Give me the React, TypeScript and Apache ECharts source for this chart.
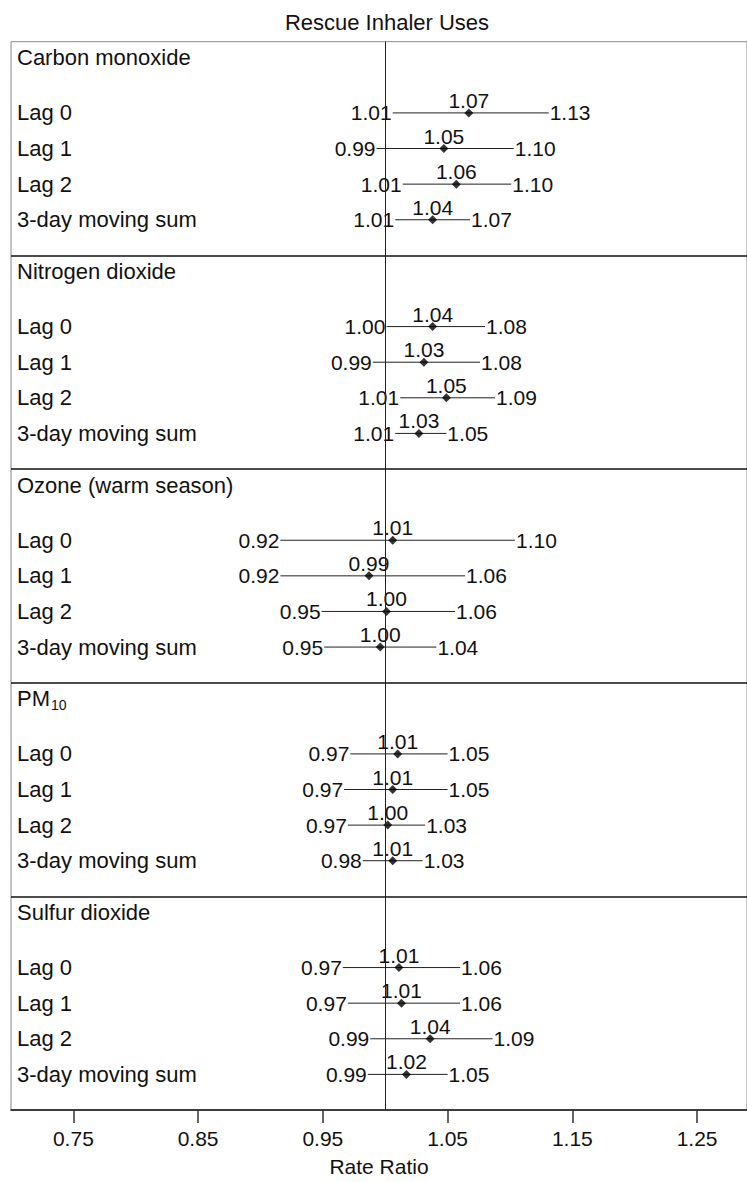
import React, { useEffect, useRef } from "react";
import * as echarts from "echarts";

const FONT = "'Liberation Sans', Arial, Helvetica, sans-serif";

// Panels (pollutants) and rows (lags)
const pollutants = ["Carbon monoxide", "Nitrogen dioxide", "Ozone (warm season)", "PM", "Sulfur dioxide"];
const pollutantSubscripts = ["", "", "", "10", ""];
const lags = ["Lag 0", "Lag 1", "Lag 2", "3-day moving sum"];

// Rate ratio point estimates, per pollutant, per lag
const estimates = [
  [1.067, 1.047, 1.057, 1.038],
  [1.038, 1.031, 1.049, 1.027],
  [1.006, 0.987, 1.001, 0.996],
  [1.01, 1.006, 1.002, 1.006],
  [1.011, 1.013, 1.036, 1.017],
];
// Lower 95% CI
const lower = [
  [1.006, 0.993, 1.014, 1.008],
  [1.001, 0.99, 1.012, 1.008],
  [0.916, 0.916, 0.949, 0.951],
  [0.972, 0.967, 0.97, 0.982],
  [0.966, 0.97, 0.988, 0.986],
];
// Upper 95% CI
const upper = [
  [1.131, 1.103, 1.101, 1.068],
  [1.08, 1.076, 1.088, 1.049],
  [1.104, 1.064, 1.056, 1.041],
  [1.05, 1.05, 1.032, 1.03],
  [1.06, 1.06, 1.086, 1.05],
];

const xTicks = [0.75, 0.85, 0.95, 1.05, 1.15, 1.25];
const X_MIN = 0.7;
const X_MAX = 1.29;
const PANEL_UNITS = 6;

export default function App() {
  const ref = useRef<HTMLDivElement>(null);

  useEffect(() => {
    const chart = echarts.init(ref.current as HTMLDivElement, null, { renderer: "svg" });

    const rows: { y: number; est: number; lo: number; hi: number; label: string }[] = [];
    pollutants.forEach((_, i) =>
      lags.forEach((l, j) =>
        rows.push({ y: i * PANEL_UNITS + 2 + j, est: estimates[i][j], lo: lower[i][j], hi: upper[i][j], label: l })
      )
    );
    const headers = pollutants.map((p, i) => ({ y: i * PANEL_UNITS + 0.45, label: p, sub: pollutantSubscripts[i] }));

    const textStyleBase = { fontFamily: FONT, fill: "#111" };

    const option: any = {
      animation: false,
      graphic: [
        {
          type: "text",
          x: 387,
          y: 22,
          style: {
            text: "Rescue Inhaler Uses",
            align: "center",
            verticalAlign: "middle",
            fontSize: 22,
            ...textStyleBase,
          },
        },
      ],
      grid: {
        left: 11,
        right: 0,
        top: 41.7,
        bottom: 68,
        show: true,
        borderColor: "#888",
        borderWidth: 1,
        backgroundColor: "transparent",
      },
      xAxis: {
        type: "value",
        min: X_MIN,
        max: X_MAX,
        splitLine: { show: false },
        axisLine: { show: true, onZero: false, lineStyle: { color: "#111", width: 1.5 } },
        axisTick: {
          show: true,
          length: 13,
          customValues: xTicks,
          lineStyle: { color: "#333", width: 1.5 },
        },
        axisLabel: {
          customValues: xTicks,
          formatter: (v: number) => v.toFixed(2),
          fontSize: 21,
          fontFamily: FONT,
          color: "#111",
          margin: 18,
        },
        name: "Rate Ratio",
        nameLocation: "middle",
        nameGap: 46,
        nameTextStyle: { fontSize: 21, fontFamily: FONT, color: "#111" },
      },
      yAxis: {
        type: "value",
        min: 0,
        max: pollutants.length * PANEL_UNITS,
        inverse: true,
        show: false,
        splitLine: { show: false },
      },
      series: [
        {
          type: "custom",
          name: "labels",
          clip: false,
          data: [
            ...headers.map((h) => [X_MIN, h.y]),
            ...rows.map((r) => [X_MIN, r.y]),
          ],
          encode: { x: 0, y: 1 },
          renderItem: (params: any, api: any) => {
            const idx = params.dataIndex;
            const pt = api.coord([api.value(0), api.value(1)]);
            const isHeader = idx < headers.length;
            const text = isHeader ? headers[idx].label : rows[idx - headers.length].label;
            const sub = isHeader ? headers[idx].sub : "";
            const children: any[] = [
              {
                type: "text",
                x: pt[0] + 6,
                y: pt[1],
                style: { text, align: "left", verticalAlign: "middle", fontSize: 22, ...textStyleBase },
              },
            ];
            if (sub) {
              children.push({
                type: "text",
                x: pt[0] + 6 + 34,
                y: pt[1] + 6,
                style: { text: sub, align: "left", verticalAlign: "middle", fontSize: 14, ...textStyleBase },
              });
            }
            return { type: "group", children };
          },
          z: 5,
        },
        {
          type: "custom",
          name: "ci",
          clip: false,
          data: rows.map((r) => [r.lo, r.hi, r.y, r.est]),
          encode: { x: [0, 1, 3], y: 2 },
          renderItem: (params: any, api: any) => {
            const lo = api.value(0);
            const hi = api.value(1);
            const y = api.value(2);
            const est = api.value(3);
            const p1 = api.coord([lo, y]);
            const p2 = api.coord([hi, y]);
            const pe = api.coord([est, y]);
            return {
              type: "group",
              children: [
                {
                  type: "line",
                  shape: { x1: p1[0], y1: p1[1], x2: p2[0], y2: p2[1] },
                  style: { stroke: "#222", lineWidth: 1 },
                },
                {
                  type: "text",
                  x: p1[0] - 1,
                  y: p1[1],
                  style: { text: lo.toFixed(2), align: "right", verticalAlign: "middle", fontSize: 21, ...textStyleBase },
                },
                {
                  type: "text",
                  x: p2[0] + 1,
                  y: p2[1],
                  style: { text: hi.toFixed(2), align: "left", verticalAlign: "middle", fontSize: 21, ...textStyleBase },
                },
                {
                  type: "text",
                  x: pe[0],
                  y: pe[1] - 12.5,
                  style: { text: est.toFixed(2), align: "center", verticalAlign: "middle", fontSize: 21, ...textStyleBase },
                },
              ],
            };
          },
          z: 3,
        },
        {
          type: "scatter",
          name: "estimate",
          data: rows.map((r) => [r.est, r.y]),
          symbol: "diamond",
          symbolSize: 9,
          itemStyle: { color: "#000" },
          z: 4,
          markLine: {
            silent: true,
            symbol: "none",
            label: { show: false },
            data: [
              { xAxis: 1, lineStyle: { color: "#222", width: 1, type: "solid" } },
              ...pollutants.slice(1).map((_, i) => ({
                yAxis: (i + 1) * PANEL_UNITS,
                lineStyle: { color: "#111", width: 1.5, type: "solid" },
              })),
            ],
          },
        },
      ],
    };

    chart.setOption(option);
    return () => chart.dispose();
  }, []);

  return (
    <div
      ref={ref}
      style={{ position: "fixed", left: 0, top: 0, width: 747, height: 1182, background: "#fff" }}
    />
  );
}
